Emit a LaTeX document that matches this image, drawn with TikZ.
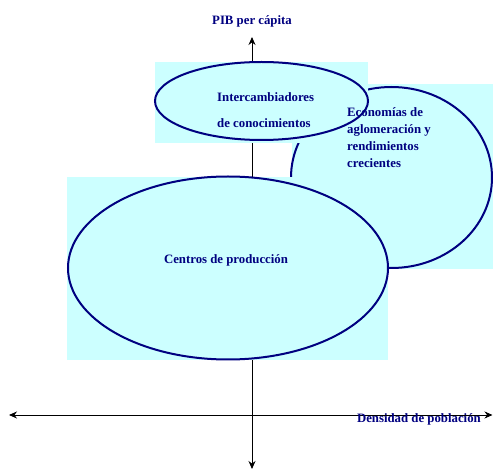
\documentclass[tikz,border=0pt]{standalone}
\usepackage{fontspec}
\setmainfont{Liberation Serif}
\usetikzlibrary{shapes.geometric,arrows.meta}
\definecolor{navyc}{HTML}{000080}
\definecolor{cyanf}{HTML}{CCFFFF}
\begin{document}
\begin{tikzpicture}[x=1pt,y=-1pt,
  lbl/.style={font=\bfseries\fontsize{12.8}{17}\selectfont, text=navyc, inner sep=0pt},
  oval/.style={ellipse, draw=navyc, line width=2pt, fill=cyanf, inner sep=0pt},
  axisline/.style={black, line width=0.9pt, -{Stealth[length=8pt,width=7pt]}}
]
\useasboundingbox (0,0) rectangle (493,470);
% axes
\coordinate (o) at (252,415);
\coordinate (ytop) at (252,37);
\coordinate (ybot) at (252,469);
\coordinate (xl) at (9,415);
\coordinate (xr) at (492.5,415);
\draw[axisline] (o) -- (ytop);
\draw[axisline] (o) -- (ybot);
\draw[axisline] (o) -- (xl);
\draw[axisline] (o) -- (xr);
% Economias
\fill[cyanf] (292,84) rectangle (493,269);
\node[oval, minimum width=201pt, minimum height=181pt] (econ) at (391.5,177.5) {};
% Intercambiadores
\fill[cyanf] (155,62) rectangle (368,143);
\node[oval, minimum width=213pt, minimum height=78pt] (inter) at (261.5,101) {};
% Centros
\fill[cyanf] (67,177) rectangle (388,360);
\node[oval, minimum width=320pt, minimum height=183pt] (centros) at (228,268) {};
% texts
\node[lbl] (pib) at (252,21) {PIB per cápita};
\node[lbl, align=left, anchor=west] (tinter) at (217,110) {Intercambiadores\\[9pt]de conocimientos};
\node[lbl, align=left, anchor=west] (tecon) at (347,137.5) {Economías de\\aglomeración y\\rendimientos\\crecientes};
\node[lbl] (tcentros) at (226,260) {Centros de producción};
\node[lbl, anchor=east] (tdens) at (481,419) {Densidad de población};
\end{tikzpicture}
\end{document}
